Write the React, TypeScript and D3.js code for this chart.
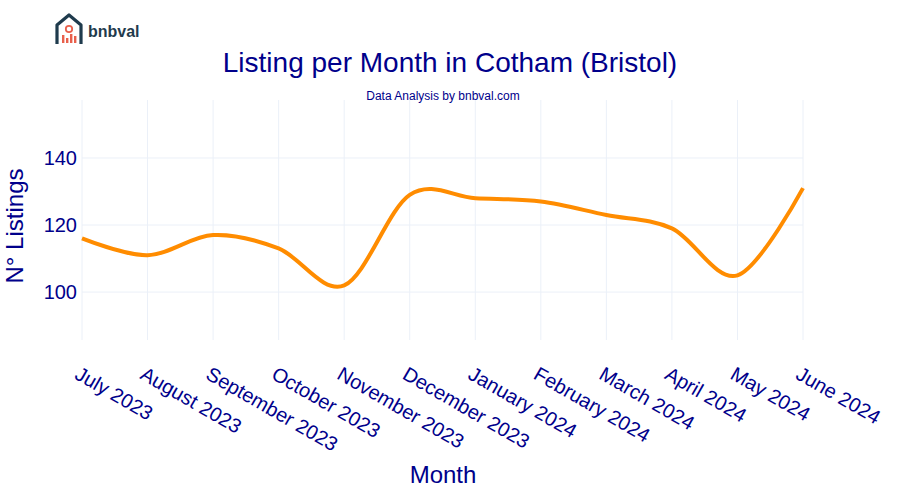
import React, { useEffect, useRef } from 'react';
import * as d3 from 'd3';

// months on the x axis
const months = [
  'July 2023', 'August 2023', 'September 2023', 'October 2023', 'November 2023',
  'December 2023', 'January 2024', 'February 2024', 'March 2024', 'April 2024',
  'May 2024', 'June 2024',
];

// number of listings per month
const listings = [116, 111, 117, 113, 102, 129, 128, 127, 123, 119, 105, 131];

const yTicks = [100, 120, 140];

const navy = '#00008b';
const font = 'Arial, "Liberation Sans", sans-serif';

const App = () => {
  const ref = useRef<SVGSVGElement>(null);

  useEffect(() => {
    const svg = d3.select(ref.current);
    svg.selectAll('*').remove();

    const left = 82;
    const right = 803;
    const top = 100;
    const bottom = 340;

    const x = d3.scalePoint<string>().domain(months).range([left, right]);
    const y = d3.scaleLinear().domain([85.7, 157.3]).range([bottom, top]);

    svg.append('rect').attr('width', 900).attr('height', 500).attr('fill', '#fff');

    // grid
    svg.append('g')
      .selectAll('line')
      .data(months)
      .enter()
      .append('line')
      .attr('x1', d => x(d)!)
      .attr('x2', d => x(d)!)
      .attr('y1', top)
      .attr('y2', bottom)
      .attr('stroke', '#ebf0f8')
      .attr('stroke-width', 1);

    svg.append('g')
      .selectAll('line')
      .data(yTicks)
      .enter()
      .append('line')
      .attr('x1', left)
      .attr('x2', right)
      .attr('y1', d => y(d))
      .attr('y2', d => y(d))
      .attr('stroke', '#ebf0f8')
      .attr('stroke-width', 1);

    // y tick labels
    svg.append('g')
      .selectAll('text')
      .data(yTicks)
      .enter()
      .append('text')
      .attr('x', left - 5)
      .attr('y', d => y(d))
      .attr('dy', '0.36em')
      .attr('text-anchor', 'end')
      .attr('font-family', font)
      .attr('font-size', 20)
      .attr('fill', navy)
      .text(d => d);

    // x tick labels, rotated 30 degrees
    svg.append('g')
      .selectAll('text')
      .data(months)
      .enter()
      .append('text')
      .attr('transform', d => `translate(${x(d)! - 1},${365}) rotate(30)`)
      .attr('dy', '0.75em')
      .attr('text-anchor', 'start')
      .attr('font-family', font)
      .attr('font-size', 20)
      .attr('fill', navy)
      .text(d => d);

    // line
    const line = d3.line<number>()
      .x((d, i) => x(months[i])!)
      .y(d => y(d))
      .curve(d3.curveCardinal.tension(0));

    svg.append('path')
      .datum(listings)
      .attr('fill', 'none')
      .attr('stroke', '#ff8c00')
      .attr('stroke-width', 4)
      .attr('stroke-linejoin', 'round')
      .attr('d', line);

    // titles
    svg.append('text')
      .attr('x', 450)
      .attr('y', 72)
      .attr('text-anchor', 'middle')
      .attr('font-family', font)
      .attr('font-size', 28)
      .attr('fill', navy)
      .text('Listing per Month in Cotham (Bristol)');

    svg.append('text')
      .attr('x', 443)
      .attr('y', 100)
      .attr('text-anchor', 'middle')
      .attr('font-family', font)
      .attr('font-size', 12)
      .attr('fill', navy)
      .text('Data Analysis by bnbval.com');

    svg.append('text')
      .attr('transform', `translate(23,${(top + bottom) / 2 + 6}) rotate(-90)`)
      .attr('text-anchor', 'middle')
      .attr('font-family', font)
      .attr('font-size', 24)
      .attr('fill', navy)
      .text('N° Listings');

    svg.append('text')
      .attr('x', 443)
      .attr('y', 483)
      .attr('text-anchor', 'middle')
      .attr('font-family', font)
      .attr('font-size', 24)
      .attr('fill', navy)
      .text('Month');

    // logo
    const logo = svg.append('g').attr('transform', 'translate(55,13)');
    logo.append('path')
      .attr('d', 'M2,31 L2,12 L14,2 L26,12 L26,31')
      .attr('fill', 'none')
      .attr('stroke', '#1f3b4d')
      .attr('stroke-width', 3.2)
      .attr('stroke-linejoin', 'round');
    logo.append('circle')
      .attr('cx', 14).attr('cy', 16).attr('r', 3.2)
      .attr('fill', 'none').attr('stroke', '#e8604c').attr('stroke-width', 1.8);
    const bars = [[7, 22, 8], [11, 25, 5], [15, 21, 9], [19, 23, 7]];
    bars.forEach(([bx, by, bh]) => {
      logo.append('rect')
        .attr('x', bx).attr('y', by).attr('width', 2.4).attr('height', bh)
        .attr('fill', '#e8604c');
    });
    logo.append('text')
      .attr('x', 33)
      .attr('y', 24)
      .attr('font-family', font)
      .attr('font-weight', 'bold')
      .attr('font-size', 16)
      .attr('fill', '#1f3b4d')
      .text('bnbval');
  }, []);

  return (
    <svg ref={ref} width={900} height={500} style={{ position: 'absolute', left: 0, top: 0 }}></svg>
  );
};

export default App;
